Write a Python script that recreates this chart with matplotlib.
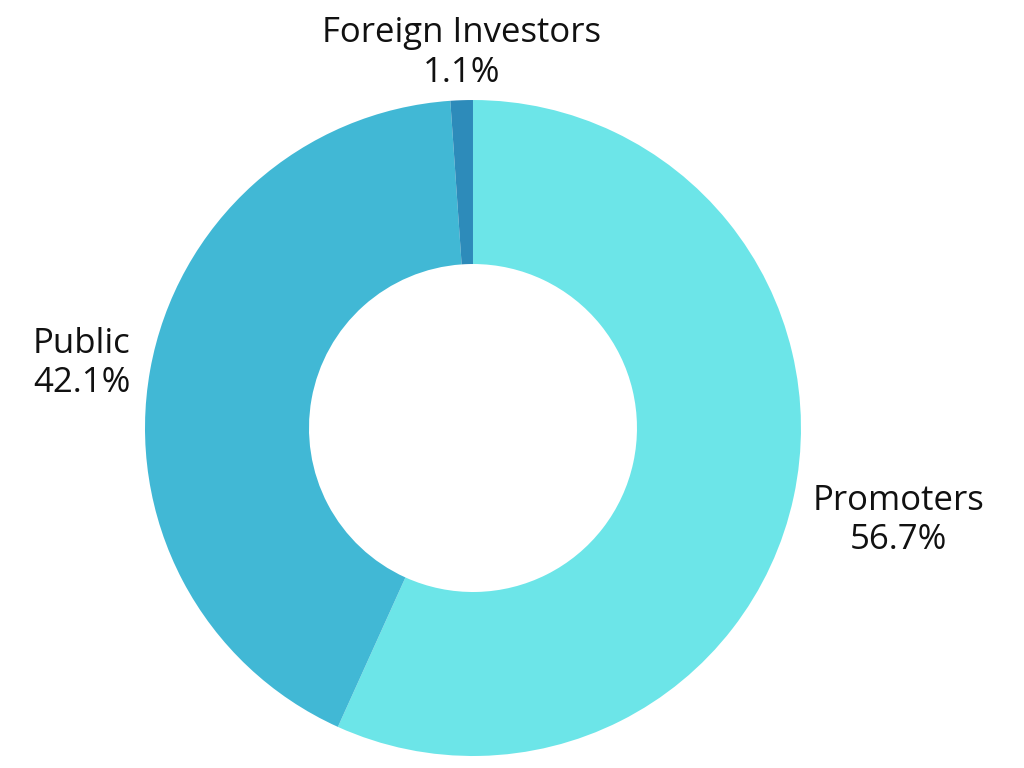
import numpy as np
import matplotlib.pyplot as plt

plt.rcParams['font.family'] = ['Open Sans', 'DejaVu Sans']

# shareholding pattern
labels = ['Promoters', 'Public', 'Foreign Investors']
shares = [56.7, 42.1, 1.1]
colors = ['#6CE5E8', '#41B8D5', '#2D8BBA']

fig = plt.figure(figsize=(10.24, 7.68), dpi=100)
ax = fig.add_axes([0.1416, 0.0156, 0.6406, 0.8542])

wedges, _ = ax.pie(shares, colors=colors, startangle=90, counterclock=False,
                   radius=1, wedgeprops=dict(width=0.5, linewidth=0))

# small vertical nudges (points) so labels sit like the original
nudge = {'Promoters': -14, 'Public': 2, 'Foreign Investors': -3}

for w, name, val in zip(wedges, labels, shares):
    ang = np.deg2rad((w.theta1 + w.theta2) / 2)
    x, y = np.cos(ang), np.sin(ang)
    if abs(x) < 0.2:
        ha, va = 'center', 'bottom'
        d = 1.045
    else:
        ha = 'left' if x > 0 else 'right'
        va = 'center'
        d = 1.06
    ax.annotate(f'{name}\n{val:.1f}%', (d * x, d * y),
                xytext=(0, nudge[name]), textcoords='offset points',
                ha=ha, va=va, multialignment='center', fontsize=25,
                color='#111111', linespacing=1.2, annotation_clip=False)

ax.set_xlim(-1, 1)
ax.set_ylim(-1, 1)
ax.set_aspect('equal')
ax.axis('off')

fig.savefig('out.png', dpi=100)
